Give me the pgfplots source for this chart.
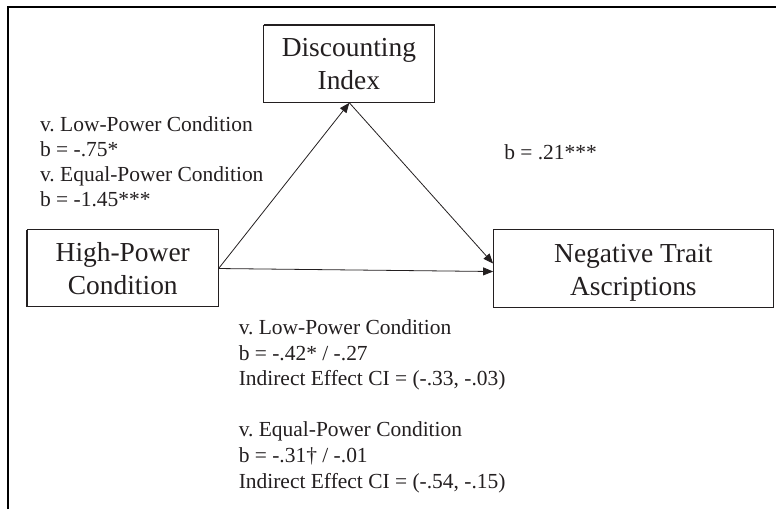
\documentclass[border=0pt]{standalone}
\usepackage{pgfplots}
\pgfplotsset{compat=1.18}
\usepackage{fontspec}
\setmainfont{Liberation Serif}
\usetikzlibrary{arrows.meta}
\definecolor{ink}{RGB}{35,31,32}
\newcommand\lbl{\fontsize{21.5}{25}\selectfont}
\newcommand\bx{\fontsize{27.5}{33}\selectfont}
\frenchspacing
\begin{document}
\begin{tikzpicture}
\begin{axis}[
  width=777pt, height=510pt, scale only axis,
  xmin=0, xmax=777, ymin=0, ymax=510, y dir=reverse,
  hide axis, clip=false,
]
\path (axis cs:0,0) rectangle (axis cs:777,510);
% frame
\addplot[black, line width=2.8pt, line join=miter] coordinates {(8,510) (8,7) (777,7)};
% boxes
\addplot[ink, line width=1.2pt, line join=miter] coordinates {(264,25) (435,25) (435,103) (264,103) (264,25)};
\addplot[ink, line width=1.2pt, line join=miter] coordinates {(27,230) (219,230) (219,307) (27,307) (27,230)};
\addplot[ink, line width=1.2pt, line join=miter] coordinates {(494,230) (775,230) (775,308) (494,308) (494,230)};
% arrows
\addplot[ink, line width=0.8pt, -{Triangle[length=10pt,width=8pt]}] coordinates {(219,269) (350,103)};
\addplot[ink, line width=0.8pt, -{Triangle[length=10pt,width=8pt]}] coordinates {(350,103) (494,264)};
\addplot[ink, line width=0.8pt, -{Triangle[length=10pt,width=8pt]}] coordinates {(219,269) (494,272)};
% box texts
\node[anchor=base, inner sep=0, font=\bx, text=ink] at (axis cs:349.5,57) {Discounting};
\node[anchor=base, inner sep=0, font=\bx, text=ink] at (axis cs:349.5,90) {Index};
\node[anchor=base, inner sep=0, font=\bx, text=ink] at (axis cs:123,262) {High-Power};
\node[anchor=base, inner sep=0, font=\bx, text=ink] at (axis cs:123,295) {Condition};
\node[anchor=base, inner sep=0, font=\bx, text=ink] at (axis cs:634.5,263) {Negative Trait};
\node[anchor=base, inner sep=0, font=\bx, text=ink] at (axis cs:634.5,296) {Ascriptions};
% upper-left labels
\node[anchor=base west, inner sep=0, font=\lbl, text=ink] at (axis cs:40,132) {v. Low-Power Condition};
\node[anchor=base west, inner sep=0, font=\lbl, text=ink] at (axis cs:40,157) {b = -.75*};
\node[anchor=base west, inner sep=0, font=\lbl, text=ink] at (axis cs:40,182) {v. Equal-Power Condition};
\node[anchor=base west, inner sep=0, font=\lbl, text=ink] at (axis cs:40,207) {b = -1.45***};
% right label
\node[anchor=base west, inner sep=0, font=\lbl, text=ink] at (axis cs:505,160) {b = .21***};
% bottom labels
\node[anchor=base west, inner sep=0, font=\lbl, text=ink] at (axis cs:239,335) {v. Low-Power Condition};
\node[anchor=base west, inner sep=0, font=\lbl, text=ink] at (axis cs:239,361) {b = -.42* / -.27};
\node[anchor=base west, inner sep=0, font=\lbl, text=ink] at (axis cs:239,386) {Indirect Effect CI = (-.33, -.03)};
\node[anchor=base west, inner sep=0, font=\lbl, text=ink] at (axis cs:239,437) {v. Equal-Power Condition};
\node[anchor=base west, inner sep=0, font=\lbl, text=ink] at (axis cs:239,463) {b = -.31\textdagger{} / -.01};
\node[anchor=base west, inner sep=0, font=\lbl, text=ink] at (axis cs:239,489) {Indirect Effect CI = (-.54, -.15)};
\end{axis}
\end{tikzpicture}
\end{document}
